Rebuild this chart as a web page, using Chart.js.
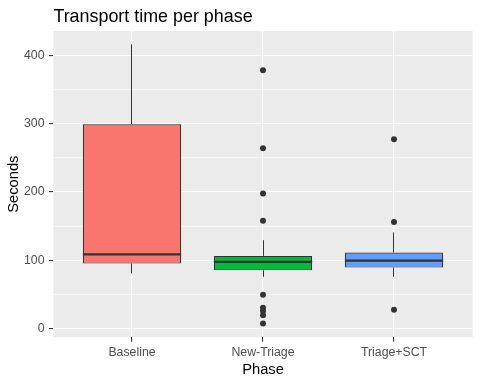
<!DOCTYPE html>
<html><head><meta charset="utf-8">
<script src="https://cdn.jsdelivr.net/npm/chart.js@4/dist/chart.umd.min.js"></script>
<style>html,body{margin:0;padding:0;background:#fff;}#wrap{width:480px;height:384px;}</style>
</head><body><div id="wrap"><canvas id="c" width="480" height="384"></canvas></div>
<script>
const categories = ["Baseline", "New-Triage", "Triage+SCT"];
const whiskerLow = [81, 76, 76];
const q1 = [95.5, 85.6, 89.6];
const median = [109, 97.8, 99.8];
const q3 = [299, 106.6, 111.5];
const whiskerHigh = [416, 129.6, 141];
const outliersBaseline = [];
const outliersNewTriage = [378, 264, 198, 158, 50, 31, 26, 20, 8];
const outliersTriageSCT = [277, 156, 28];
const yMajorTicks = [0, 100, 200, 300, 400];
const yAllTicks = [0, 50, 100, 150, 200, 250, 300, 350, 400];
const fills = ["#F8766D", "#00BA38", "#619CFF"];

const outlierPts = [];
[outliersBaseline, outliersNewTriage, outliersTriageSCT].forEach((arr, i) => arr.forEach(v => outlierPts.push({x: i + 1, y: v})));

const FONT = '"Liberation Sans", Arial, sans-serif';

const boxPlugin = {
  id: 'boxparts',
  beforeDraw(chart) {
    const a = chart.chartArea, ctx = chart.ctx;
    ctx.save(); ctx.fillStyle = '#EBEBEB';
    ctx.fillRect(a.left, a.top, a.right - a.left, a.bottom - a.top);
    ctx.restore();
  },
  beforeDatasetsDraw(chart) {
    const ctx = chart.ctx, xs = chart.scales.x, ys = chart.scales.y;
    ctx.save(); ctx.strokeStyle = '#333333'; ctx.lineWidth = 1;
    categories.forEach((c, i) => {
      const x = Math.floor(xs.getPixelForValue(i + 1)) + 0.5;
      ctx.beginPath();
      ctx.moveTo(x, ys.getPixelForValue(q3[i])); ctx.lineTo(x, ys.getPixelForValue(whiskerHigh[i]));
      ctx.moveTo(x, ys.getPixelForValue(q1[i])); ctx.lineTo(x, ys.getPixelForValue(whiskerLow[i]));
      ctx.stroke();
    });
    ctx.restore();
  },
  afterDatasetsDraw(chart) {
    const ctx = chart.ctx, ys = chart.scales.y;
    const meta = chart.getDatasetMeta(1);
    ctx.save(); ctx.strokeStyle = '#333333'; ctx.lineWidth = 2.2;
    meta.data.forEach((bar, i) => {
      const y = ys.getPixelForValue(median[i]);
      ctx.beginPath(); ctx.moveTo(bar.x - bar.width / 2, y); ctx.lineTo(bar.x + bar.width / 2, y); ctx.stroke();
    });
    ctx.restore();
  },
  afterDraw(chart) {
    const ctx = chart.ctx, a = chart.chartArea;
    ctx.save(); ctx.fillStyle = '#000'; ctx.font = '17.9px ' + FONT;
    ctx.textBaseline = 'alphabetic'; ctx.textAlign = 'left';
    ctx.fillText('Transport time per phase', a.left, 21.7);
    ctx.restore();
  }
};

new Chart(document.getElementById('c'), {
  type: 'bar',
  data: {
    datasets: [
      {type: 'scatter', data: outlierPts, backgroundColor: '#333333', borderColor: '#333333', pointRadius: 3, pointHoverRadius: 3, borderWidth: 0},
      {type: 'bar', data: categories.map((c, i) => ({x: i + 1, y: [q1[i], q3[i]]})),
       backgroundColor: fills, borderColor: '#333333', borderWidth: 1.1, borderSkipped: false,
       barPercentage: 0.75, categoryPercentage: 1}
    ]
  },
  options: {
    responsive: false, animation: false, devicePixelRatio: 1,
    layout: {padding: {left: 5, top: 31, right: 7.4, bottom: 0}},
    plugins: {legend: {display: false}, tooltip: {enabled: false}, title: {display: false}},
    scales: {
      x: {
        type: 'linear', min: 0.4, max: 3.6, offset: false,
        afterBuildTicks(s) { s.ticks = categories.map((c, i) => ({value: i + 1})); },
        afterFit(s) { s.height = 46.7; },
        ticks: {callback: (v) => categories[v - 1] || '', color: '#4D4D4D', font: {family: FONT, size: 12.3}, padding: 4, maxRotation: 0, autoSkip: false},
        grid: {color: '#FFFFFF', lineWidth: 1.1, tickLength: 4.4, tickColor: '#333333', drawOnChartArea: true, offset: false},
        border: {display: false},
        title: {display: true, text: 'Phase', color: '#000', font: {family: FONT, size: 14.7}, padding: {top: 0, bottom: 5}}
      },
      y: {
        type: 'linear', min: -12.35, max: 435.35,
        afterBuildTicks(s) { s.ticks = yAllTicks.map(v => ({value: v})); },
        afterFit(s) { s.width = 48.4; },
        ticks: {callback: (v) => yMajorTicks.includes(v) ? String(v) : '', color: '#4D4D4D', font: {family: FONT, size: 12.3}, padding: 4.5, autoSkip: false},
        grid: {
          color: '#FFFFFF',
          lineWidth: (ctx) => yMajorTicks.includes(ctx.tick && ctx.tick.value) ? 1.1 : 0.55,
          tickLength: 4.4,
          tickColor: (ctx) => yMajorTicks.includes(ctx.tick && ctx.tick.value) ? '#333333' : 'rgba(0,0,0,0)'
        },
        border: {display: false},
        title: {display: true, text: 'Seconds', color: '#000', font: {family: FONT, size: 14.7}, padding: {top: 0, bottom: 0}}
      }
    }
  },
  plugins: [boxPlugin]
});
</script></body></html>
